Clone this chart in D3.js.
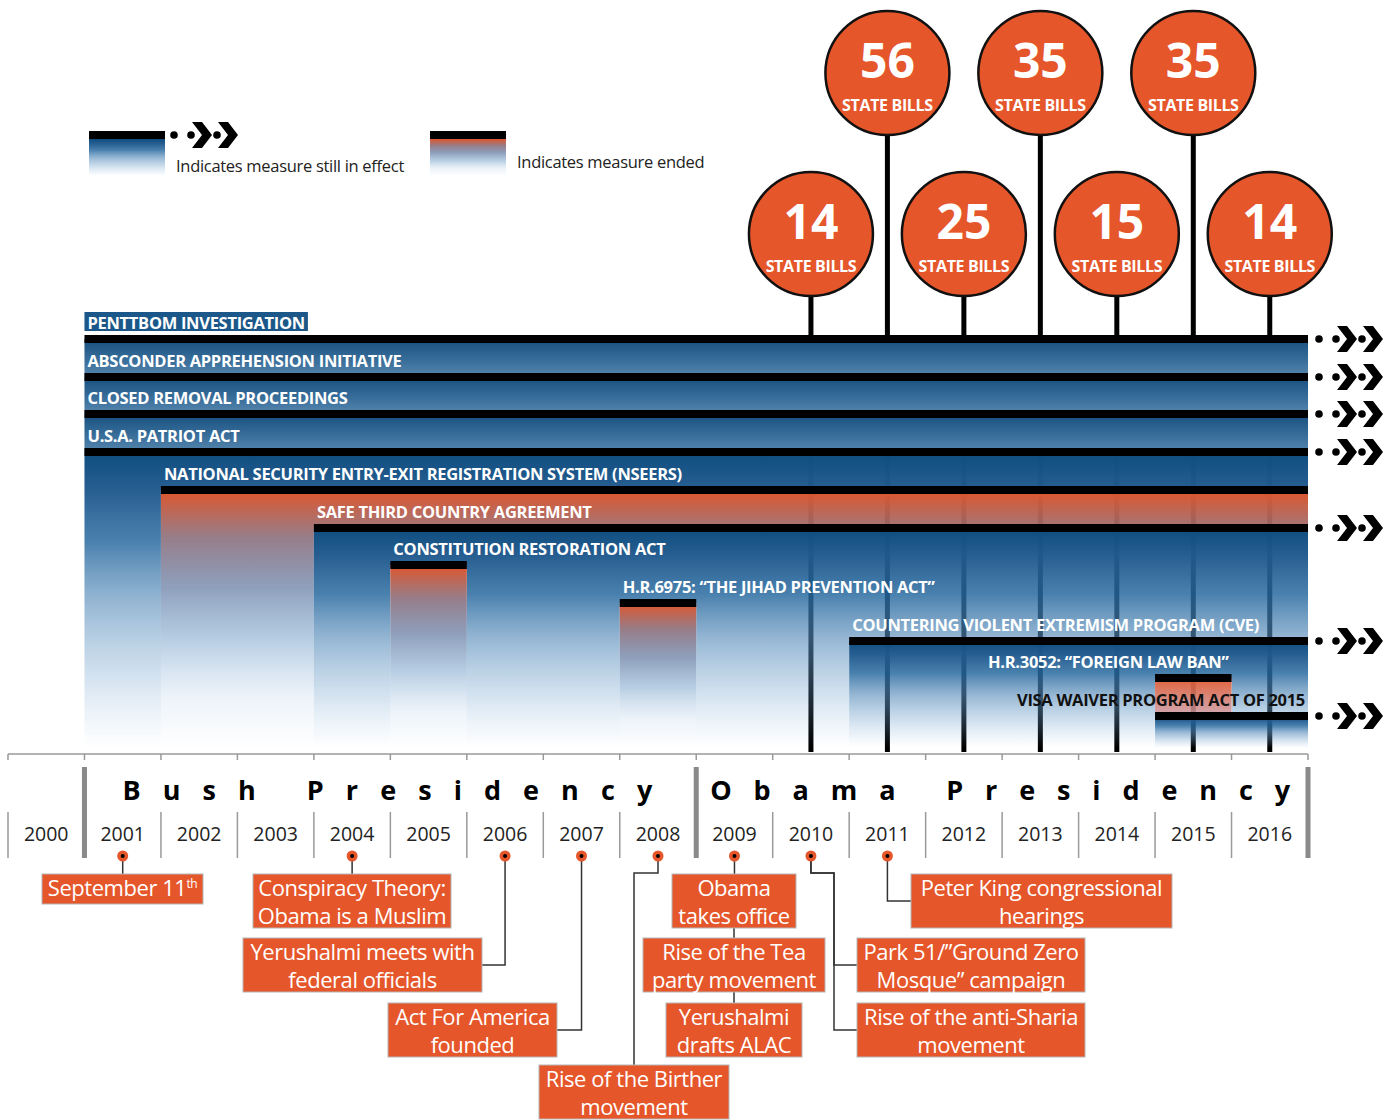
<!DOCTYPE html>
<html>
<head>
<meta charset="utf-8">
<script src="https://cdn.jsdelivr.net/npm/d3@7"></script>
<style>
  body { margin: 0; background: #fff; }
  text { font-family: "Open Sans", sans-serif; }
</style>
</head>
<body>
<div class="container"></div>
<script>
// ---- data ----
const years = [2000, 2001, 2002, 2003, 2004, 2005, 2006, 2007, 2008, 2009, 2010, 2011, 2012, 2013, 2014, 2015, 2016];
const yearLabels = ["2000", "2001", "2002", "2003", "2004", "2005", "2006", "2007", "2008", "2009", "2010", "2011", "2012", "2013", "2014", "2015", "2016"];

const measures = [
  {name: "PENTTBOM INVESTIGATION", start: 2001, end: 2017, ongoing: true},
  {name: "ABSCONDER APPREHENSION INITIATIVE", start: 2001, end: 2017, ongoing: true},
  {name: "CLOSED REMOVAL PROCEEDINGS", start: 2001, end: 2017, ongoing: true},
  {name: "U.S.A. PATRIOT ACT", start: 2001, end: 2017, ongoing: true},
  {name: "NATIONAL SECURITY ENTRY-EXIT REGISTRATION SYSTEM (NSEERS)", start: 2002, end: 2017, ongoing: false},
  {name: "SAFE THIRD COUNTRY AGREEMENT", start: 2004, end: 2017, ongoing: true},
  {name: "CONSTITUTION RESTORATION ACT", start: 2005, end: 2006, ongoing: false},
  {name: "H.R.6975: \u201CTHE JIHAD PREVENTION ACT\u201D", start: 2008, end: 2009, ongoing: false},
  {name: "COUNTERING VIOLENT EXTREMISM PROGRAM (CVE)", start: 2011, end: 2017, ongoing: true},
  {name: "H.R.3052: \u201CFOREIGN LAW BAN\u201D", start: 2015, end: 2016, ongoing: false},
  {name: "VISA WAIVER PROGRAM ACT OF 2015", start: 2015, end: 2017, ongoing: true}
];

const billYears = [2010, 2011, 2012, 2013, 2014, 2015, 2016];
const billCounts = [14, 56, 25, 35, 15, 35, 14];

const presidencies = [
  {name: "Bush Presidency", start: 2001, end: 2009},
  {name: "Obama Presidency", start: 2009, end: 2017}
];

const events = [
  {year: 2001, lines: ["September 11th"]},
  {year: 2004, lines: ["Conspiracy Theory:", "Obama is a Muslim"]},
  {year: 2006, lines: ["Yerushalmi meets with", "federal officials"]},
  {year: 2007, lines: ["Act For America", "founded"]},
  {year: 2008, lines: ["Rise of the Birther", "movement"]},
  {year: 2009, lines: ["Obama", "takes office"]},
  {year: 2009, lines: ["Rise of the Tea", "party movement"]},
  {year: 2009, lines: ["Yerushalmi", "drafts ALAC"]},
  {year: 2010, lines: ["Park 51/\u201DGround Zero", "Mosque\u201D campaign"]},
  {year: 2010, lines: ["Rise of the anti-Sharia", "movement"]},
  {year: 2011, lines: ["Peter King congressional", "hearings"]}
];

// where each event box sits and how it is tied to its year
const eventLayout = [
  {cx: 122.5, top: 874, w: 161, link: "down"},
  {cx: 352, top: 874, w: 198, link: "down"},
  {cx: 362.5, top: 938, w: 239, link: "side"},
  {cx: 472.5, top: 1003, w: 169, link: "side"},
  {cx: 634, top: 1065, w: 190, link: "jog"},
  {cx: 734, top: 874, w: 124, link: "down"},
  {cx: 734, top: 938, w: 182, link: "chain"},
  {cx: 734, top: 1003, w: 136, link: "chain"},
  {cx: 971, top: 938, w: 228, link: "bracket", elbow: 834},
  {cx: 971, top: 1003, w: 228, link: "bracket", elbow: 834},
  {cx: 1041.5, top: 874, w: 261, link: "side"}
];

// ---- setup ----
const width = 1390;
const height = 1120;
const orange = "#e5562a";

const svg = d3.select(".container")
  .append("svg")
    .attr("width", width)
    .attr("height", height);

const x = d3.scaleLinear().domain([2000, 2017]).range([8, 1308]);
const bw = x(2001) - x(2000);
const yRow = d3.scaleLinear().domain([0, measures.length - 1]).range([339, 716]);
const plotBottom = 748;
const axisY = 754;
const dotY = 856;
const jogY = 873;

const defs = svg.append("defs");

function addGradient(id, stops) {
  const g = defs.append("linearGradient")
    .attr("id", id)
    .attr("x1", 0).attr("y1", 0).attr("x2", 0).attr("y2", 1);
  g.selectAll("stop")
    .data(stops)
    .enter()
    .append("stop")
      .attr("offset", d => d[0])
      .attr("stop-color", d => d[1])
      .attr("stop-opacity", d => d[2]);
}

addGradient("blueFade", [[0, "#0e4d7f", 1], [0.12, "#225a8e", 0.98], [0.3, "#26689e", 0.84], [0.5, "#5389b8", 0.62], [0.72, "#6a9cc8", 0.35], [1, "#8ab8e0", 0]]);
addGradient("orangeFade", [[0, "#e0552b", 1], [0.18, "#8f717d", 0.92], [0.38, "#60779f", 0.7], [0.58, "#5f90bf", 0.45], [0.81, "#8cb4dc", 0.15], [1, "#8cb4dc", 0]]);
addGradient("blueBand", [[0, "#154f80", 1], [1, "#5586ae", 1]]);
addGradient("orangeBand", [[0, "#e05a30", 0.95], [1, "#c99aa6", 0.85]]);

// derived bar geometry
const bars = measures.map((m, i) => {
  // a later measure that spans this whole bar hides what lies under its line
  const cover = measures.slice(i + 1).find(n => n.start <= m.start && n.end >= m.end);
  return {
    m: m,
    i: i,
    y: Math.round(yRow(i)),
    x0: x(m.start),
    x1: x(m.end),
    band: !!cover,
    bottom: cover ? Math.round(yRow(measures.indexOf(cover))) : plotBottom
  };
});

// ---- stems of the state bill circles (under the fades) ----
const bills = billYears.map((yr, i) => ({
  year: yr,
  count: billCounts[i],
  cx: x(yr) + bw / 2,
  cy: i % 2 === 0 ? 234 : 73
}));

svg.append("g")
  .selectAll("line")
  .data(bills)
  .enter()
  .append("line")
    .attr("x1", d => d.cx).attr("x2", d => d.cx)
    .attr("y1", d => d.cy).attr("y2", axisY - 2)
    .attr("stroke", "#000")
    .attr("stroke-width", 5);

// ---- fades under each measure ----
bars.forEach(b => {
  const mask = defs.append("mask").attr("id", "mask" + b.i)
    .attr("maskUnits", "userSpaceOnUse")
    .attr("x", 0).attr("y", 0).attr("width", width).attr("height", height);
  mask.append("rect").attr("width", width).attr("height", height).attr("fill", "#fff");
  mask.selectAll("rect.later")
    .data(bars.filter(o => o.i > b.i))
    .enter()
    .append("rect")
      .attr("class", "later")
      .attr("x", o => o.x0).attr("y", o => o.y)
      .attr("width", o => o.x1 - o.x0)
      .attr("height", o => plotBottom - o.y)
      .attr("fill", "#000");
});

svg.append("g")
  .selectAll("rect")
  .data(bars)
  .enter()
  .append("rect")
    .attr("x", d => d.x0)
    .attr("y", d => d.y)
    .attr("width", d => d.x1 - d.x0)
    .attr("height", d => d.bottom - d.y)
    .attr("fill", d => "url(#" + (d.m.ongoing ? "blue" : "orange") + (d.band ? "Band" : "Fade") + ")")
    .attr("mask", d => "url(#mask" + d.i + ")");

// ---- black bars ----
svg.append("g")
  .selectAll("rect")
  .data(bars)
  .enter()
  .append("rect")
    .attr("x", d => d.x0)
    .attr("y", d => d.y - 4)
    .attr("width", d => d.x1 - d.x0)
    .attr("height", 8)
    .attr("fill", "#000");

// ---- labels ----
const labelG = svg.append("g");
bars.forEach(b => {
  const t = labelG.append("text")
    .attr("x", b.x0 + 3)
    .attr("y", b.y - 10)
    .attr("font-size", 16.5)
    .attr("font-weight", 700)
    .attr("letter-spacing", -0.3)
    .attr("fill", b.i === bars.length - 1 ? "#111" : "#fff")
    .text(b.m.name);
  const w = t.node().getComputedTextLength();
  if (b.x0 + 3 + w > x(2017)) {
    t.attr("text-anchor", "end").attr("x", b.x1 - 3);
  }
  if (b.i === 0) {
    labelG.insert("rect", "text")
      .attr("x", b.x0).attr("y", b.y - 27)
      .attr("width", w + 6).attr("height", 19)
      .attr("fill", "#1b5788");
  }
});

// ---- continuation arrows ----
function drawArrow(g) {
  g.append("circle").attr("cx", 11).attr("r", 3.8).attr("fill", "#000");
  [29, 55].forEach(b0 => {
    g.append("circle").attr("cx", b0 - 1).attr("r", 3.8).attr("fill", "#000");
    g.append("path")
      .attr("d", d3.line()([[b0, -13], [b0 + 10, -13], [b0 + 20, 0], [b0 + 10, 13], [b0, 13], [b0 + 10, 0]]) + "Z")
      .attr("fill", "#000");
  });
}

bars.filter(b => b.m.ongoing).forEach(b => {
  const g = svg.append("g").attr("transform", "translate(" + b.x1 + "," + b.y + ")");
  drawArrow(g);
});

// ---- legend ----
const legend = svg.append("g");
[
  {x0: 89, fill: "url(#blueFade)", text: "Indicates measure still in effect", tx: 176, ty: 172, arrow: true},
  {x0: 430, fill: "url(#orangeFade)", text: "Indicates measure ended", tx: 517, ty: 168, arrow: false}
].forEach(l => {
  legend.append("rect").attr("x", l.x0).attr("y", 139).attr("width", 76).attr("height", 37).attr("fill", l.fill);
  legend.append("rect").attr("x", l.x0).attr("y", 131).attr("width", 76).attr("height", 8).attr("fill", "#000");
  legend.append("text")
    .attr("x", l.tx).attr("y", l.ty)
    .attr("font-size", 16.5)
    .attr("letter-spacing", -0.3)
    .attr("fill", "#222")
    .text(l.text);
  if (l.arrow) drawArrow(legend.append("g").attr("transform", "translate(" + (l.x0 + 74) + ",135)"));
});

// ---- state bill circles ----
const billG = svg.append("g")
  .selectAll("g")
  .data(bills)
  .enter()
  .append("g")
    .attr("transform", d => "translate(" + d.cx + "," + d.cy + ")");

billG.append("circle")
  .attr("r", 62)
  .attr("fill", orange)
  .attr("stroke", "#111")
  .attr("stroke-width", 2.5);

billG.append("text")
  .attr("text-anchor", "middle")
  .attr("y", 5)
  .attr("font-size", 48)
  .attr("font-weight", 700)
  .attr("fill", "#fff")
  .text(d => d.count);

billG.append("text")
  .attr("text-anchor", "middle")
  .attr("y", 38)
  .attr("font-size", 16)
  .attr("font-weight", 700)
  .attr("letter-spacing", -0.35)
  .attr("fill", "#fff")
  .text("STATE BILLS");

// ---- time axis ----
const axisG = svg.append("g");
const bounds = d3.range(2000, 2018);

axisG.append("line")
  .attr("x1", x(2000)).attr("x2", x(2017))
  .attr("y1", axisY).attr("y2", axisY)
  .attr("stroke", "#9a9a9a").attr("stroke-width", 1.5);

axisG.selectAll("line.tick")
  .data(bounds)
  .enter()
  .append("line")
    .attr("class", "tick")
    .attr("x1", d => x(d)).attr("x2", d => x(d))
    .attr("y1", axisY).attr("y2", axisY + 6)
    .attr("stroke", "#9a9a9a").attr("stroke-width", 1.5);

const presBounds = [...new Set(presidencies.flatMap(p => [p.start, p.end]))];

axisG.selectAll("line.sep")
  .data(bounds.filter(d => !presBounds.includes(d)))
  .enter()
  .append("line")
    .attr("class", "sep")
    .attr("x1", d => x(d)).attr("x2", d => x(d))
    .attr("y1", 812).attr("y2", 858)
    .attr("stroke", "#9a9a9a").attr("stroke-width", 1.5);

axisG.selectAll("rect.pres")
  .data(presBounds)
  .enter()
  .append("rect")
    .attr("class", "pres")
    .attr("x", d => x(d) - 2.5).attr("y", 767)
    .attr("width", 5).attr("height", 91)
    .attr("fill", "#8a8a8a");

axisG.selectAll("text.year")
  .data(years)
  .enter()
  .append("text")
    .attr("class", "year")
    .attr("x", d => x(d) + bw / 2)
    .attr("y", 841)
    .attr("text-anchor", "middle")
    .attr("font-size", 19.5)
    .attr("fill", "#222")
    .text((d, i) => yearLabels[i]);

const presPad = [[38, 44], [14, 18]];
axisG.selectAll("text.pres")
  .data(presidencies)
  .enter()
  .append("text")
    .attr("class", "pres")
    .attr("x", (d, i) => x(d.start) + presPad[i][0])
    .attr("y", 800)
    .attr("font-size", 27)
    .attr("font-weight", 700)
    .attr("fill", "#000")
    .attr("textLength", (d, i) => x(d.end) - presPad[i][1] - x(d.start) - presPad[i][0])
    .attr("lengthAdjust", "spacing")
    .text(d => d.name);

// ---- events ----
const linkG = svg.append("g");
const boxG = svg.append("g");

events.forEach((ev, i) => {
  const b = eventLayout[i];
  const h = ev.lines.length === 1 ? 30 : 54;
  const dx = x(ev.year) + bw / 2;
  const my = b.top + h / 2;
  let pts;
  if (b.link === "down") {
    pts = [[dx, dotY], [dx, b.top]];
  } else if (b.link === "side") {
    const ex = b.cx > dx ? b.cx - b.w / 2 : b.cx + b.w / 2;
    pts = [[dx, dotY], [dx, my], [ex, my]];
  } else if (b.link === "jog") {
    pts = [[dx, dotY], [dx, jogY], [b.cx, jogY], [b.cx, b.top]];
  } else if (b.link === "bracket") {
    pts = [[dx, dotY], [dx, jogY], [b.elbow, jogY], [b.elbow, my], [b.cx - b.w / 2, my]];
  } else {
    const prev = eventLayout[i - 1];
    const ph = events[i - 1].lines.length === 1 ? 30 : 54;
    pts = [[b.cx, prev.top + ph], [b.cx, b.top]];
  }
  linkG.append("path")
    .attr("d", d3.line()(pts))
    .attr("fill", "none")
    .attr("stroke", "#333")
    .attr("stroke-width", 1.5);

  boxG.append("rect")
    .attr("x", b.cx - b.w / 2).attr("y", b.top)
    .attr("width", b.w).attr("height", h)
    .attr("fill", orange)
    .attr("stroke", "#b5b5b5")
    .attr("stroke-width", 1);

  const t = boxG.append("text")
    .attr("text-anchor", "middle")
    .attr("font-size", 22)
    .attr("letter-spacing", -0.45)
    .attr("fill", "#fff");
  ev.lines.forEach((line, k) => {
    const sup = line.match(/^(.*\d)(th)$/);
    const ts = t.append("tspan")
      .attr("x", b.cx)
      .attr("y", b.top + (ev.lines.length === 1 ? 22 : 21.5 + k * 28.5));
    if (sup) {
      ts.text(sup[1]);
      t.append("tspan").attr("baseline-shift", "super").attr("font-size", 12).text(sup[2]);
    } else {
      ts.text(line);
    }
  });
});

// dots on the axis, one per year with events
const eventYears = [...new Set(events.map(e => e.year))];
const dotG = svg.append("g")
  .selectAll("g")
  .data(eventYears)
  .enter()
  .append("g")
    .attr("transform", d => "translate(" + (x(d) + bw / 2) + "," + dotY + ")");
dotG.append("circle").attr("r", 5.5).attr("fill", orange);
dotG.append("circle").attr("r", 2).attr("fill", "#000");
</script>
</body>
</html>
